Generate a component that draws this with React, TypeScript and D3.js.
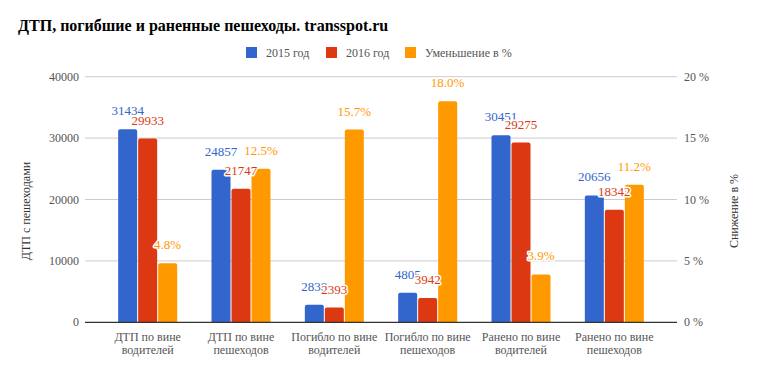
import { scaleBand, scaleLinear } from 'd3';

const categories = [
  ['ДТП по вине', 'водителей'],
  ['ДТП по вине', 'пешеходов'],
  ['Погибло по вине', 'водителей'],
  ['Погибло по вине', 'пешеходов'],
  ['Ранено по вине', 'водителей'],
  ['Ранено по вине', 'пешеходов'],
];
const values2015 = [31434, 24857, 2838, 4805, 30451, 20656];
const values2016 = [29933, 21747, 2393, 3942, 29275, 18342];
const decrease = [4.8, 12.5, 15.7, 18.0, 3.9, 11.2];

const seriesNames = ['2015 год', '2016 год', 'Уменьшение в %'];
const colors = ['#3366cc', '#dc3912', '#ff9900'];
const leftTicks = [0, 10000, 20000, 30000, 40000];
const rightTicks = [0, 5, 10, 15, 20];

const W = 758;
const H = 371;
const font = "'Liberation Serif', 'Times New Roman', serif";

export default function App() {
  const left = 85;
  const right = 677;
  const top = 76.7;
  const bottom = 322.3;

  const yL = scaleLinear().domain([0, 40000]).range([bottom, top]);
  const yR = scaleLinear().domain([0, 20]).range([bottom, top]);
  const x0 = scaleBand<number>()
    .domain(categories.map((_, i) => i))
    .range([101, 661]);
  const groupW = 59;
  const x1 = scaleBand<number>().domain([0, 1, 2]).range([0, groupW]).paddingInner(0.05);

  const bars = categories.flatMap((_, i) => {
    const gx = (x0(i) || 0) + x0.bandwidth() / 2 - groupW / 2;
    return [
      { s: 0, i, y: yL(values2015[i]), label: String(values2015[i]), x: gx + (x1(0) || 0) },
      { s: 1, i, y: yL(values2016[i]), label: String(values2016[i]), x: gx + (x1(1) || 0) },
      { s: 2, i, y: yR(decrease[i]), label: decrease[i].toFixed(1) + '%', x: gx + (x1(2) || 0) },
    ];
  });
  const bw = x1.bandwidth();

  const legendX = [246, 326, 405];

  return (
    <svg width={W} height={H} style={{ position: 'absolute', left: 0, top: 0, fontFamily: font }}>
      <rect width={W} height={H} fill="#fff" />
      <text x={18} y={31} fontSize={16} fontWeight="bold" fill="#000">
        ДТП, погибшие и раненные пешеходы. transspot.ru
      </text>

      {seriesNames.map((n, k) => (
        <g key={n}>
          <rect x={legendX[k]} y={47} width={11} height={11} fill={colors[k]} />
          <text x={legendX[k] + 20} y={57} fontSize={12} fill="#555">
            {n}
          </text>
        </g>
      ))}

      {leftTicks.map((t) => (
        <g key={t}>
          {t !== 0 && <line x1={left} x2={right} y1={yL(t)} y2={yL(t)} stroke="#ccc" />}
          <text x={79} y={yL(t) + 4} fontSize={12} fill="#555" textAnchor="end">
            {t}
          </text>
        </g>
      ))}
      {rightTicks.map((t) => (
        <text key={t} x={684} y={yR(t) + 4} fontSize={12} fill="#555">
          {t} %
        </text>
      ))}

      <text transform="translate(30,211) rotate(-90)" fontSize={12} fill="#333" textAnchor="middle">
        ДТП с пешеходами
      </text>
      <text transform="translate(738,211) rotate(-90)" fontSize={12} fill="#333" textAnchor="middle">
        Снижение в %
      </text>

      {bars.map((b) => (
        <path
          key={`${b.s}-${b.i}`}
          d={`M${b.x},${bottom} V${b.y + 2} Q${b.x},${b.y} ${b.x + 2},${b.y} H${b.x + bw - 2} Q${b.x + bw},${b.y} ${b.x + bw},${b.y + 2} V${bottom} Z`}
          fill={colors[b.s]}
        />
      ))}

      <line x1={left} x2={right} y1={bottom} y2={bottom} stroke="#333" strokeWidth={1.2} />

      {bars.map((b) => (
        <text
          key={`l${b.s}-${b.i}`}
          x={b.x + bw / 2}
          y={b.y - 14}
          fontSize={13}
          fill={colors[b.s]}
          textAnchor="middle"
          stroke="#fff"
          strokeWidth={3}
          paintOrder="stroke"
          strokeLinejoin="round"
        >
          {b.label}
        </text>
      ))}

      {categories.map((c, i) => {
        const cx = (x0(i) || 0) + x0.bandwidth() / 2;
        return (
          <text key={i} x={cx} fontSize={12} fill="#555" textAnchor="middle">
            <tspan x={cx} y={341}>
              {c[0]}
            </tspan>
            <tspan x={cx} y={354}>
              {c[1]}
            </tspan>
          </text>
        );
      })}
    </svg>
  );
}
